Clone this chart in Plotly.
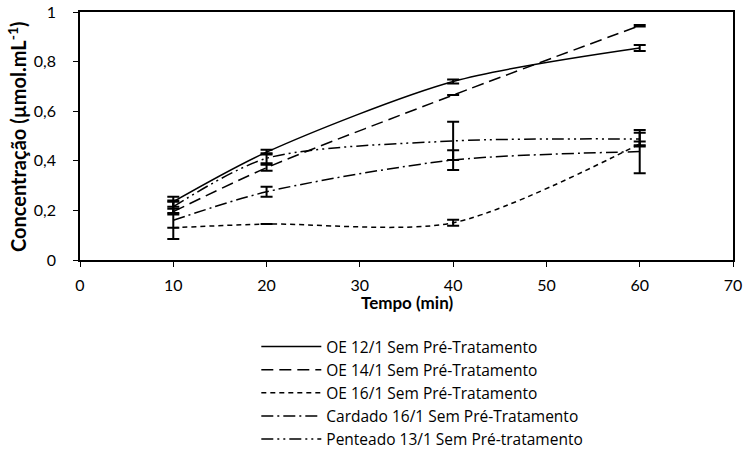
import plotly.graph_objects as go

tempo = [10, 20, 40, 60]
series_names = [
    "OE 12/1 Sem Pré-Tratamento",
    "OE 14/1 Sem Pré-Tratamento",
    "OE 16/1 Sem Pré-Tratamento",
    "Cardado 16/1 Sem Pré-Tratamento",
    "Penteado 13/1 Sem Pré-tratamento",
]
oe12 = [0.235, 0.435, 0.720, 0.855]
oe12_err = [0.02, 0.01, 0.008, 0.012]
oe14 = [0.195, 0.372, 0.665, 0.945]
oe14_err = [0.012, 0.012, 0.0, 0.003]
oe16 = [0.13, 0.145, 0.15, 0.468]
oe16_err = [0.0, 0.0, 0.012, 0.01]
cardado = [0.16, 0.275, 0.403, 0.437]
cardado_err = [0.075, 0.02, 0.04, 0.087]
penteado = [0.215, 0.41, 0.48, 0.488]
penteado_err = [0.025, 0.02, 0.077, 0.025]

x_title = "<b>Tempo (min)</b>"
y_title = "<b>Concentração (µmol.mL<sup>-1</sup>)</b>"

values = [oe12, oe14, oe16, cardado, penteado]
errors = [oe12_err, oe14_err, oe16_err, cardado_err, penteado_err]
dashes = ["solid", "12px,6px", "5px,4px", "12px,4px,2px,4px", "12px,4px,2px,4px,2px,4px"]

font = "Lato, 'Open Sans', sans-serif"
fig = go.Figure()
for name, y, e, d in zip(series_names, values, errors, dashes):
    fig.add_trace(go.Scatter(
        x=tempo, y=y, name=name, mode="lines",
        line=dict(color="black", width=1.5, dash=d, shape="spline", smoothing=0.8),
        error_y=dict(type="data", array=e, visible=True, color="black", thickness=2, width=6),
    ))

fig.update_layout(
    width=747, height=465,
    margin=dict(l=80, r=14, t=12, b=205, autoexpand=False),
    paper_bgcolor="white", plot_bgcolor="white",
    separators=",.",
    font=dict(family=font, color="black", size=16),
    showlegend=True,
    legend=dict(
        x=0.27, xanchor="left",
        y=-0.282, yanchor="top",
        font=dict(size=15.5, family="'Open Sans', sans-serif"), itemwidth=60,
        bgcolor="rgba(0,0,0,0)", tracegroupgap=0,
    ),
    annotations=[
        dict(text=x_title, xref="paper", yref="paper", x=0.5, y=-0.17,
             xanchor="center", yanchor="middle", showarrow=False,
             font=dict(size=17, family=font)),
        dict(text=y_title, xref="paper", yref="paper", x=-0.0965, y=0.5,
             xanchor="center", yanchor="middle", showarrow=False, textangle=-90,
             font=dict(size=20, family=font)),
    ],
)
fig.update_xaxes(
    range=[0, 70], dtick=10, showline=True, linecolor="black", linewidth=1.5,
    mirror=True, ticks="outside", ticklen=5, tickcolor="black", showgrid=False, zeroline=False,
    tickfont=dict(size=16), automargin=False, ticklabelstandoff=5,
)
fig.update_yaxes(
    range=[0, 1], dtick=0.2, showline=True, linecolor="black", linewidth=1.5,
    mirror=True, ticks="outside", ticklen=5, tickcolor="black", showgrid=False, zeroline=False,
    tickfont=dict(size=16), automargin=False, ticklabelstandoff=14,
)
fig.write_html("out.html")
